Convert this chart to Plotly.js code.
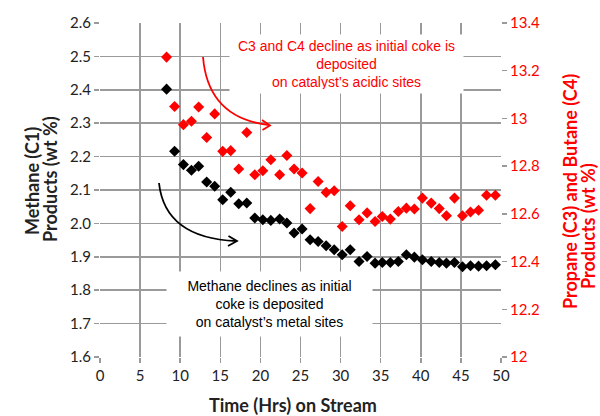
<!DOCTYPE html>
<html>
<head>
<meta charset="utf-8">
<script src="https://cdn.plot.ly/plotly-3.0.1.min.js"></script>
<style>html,body{margin:0;padding:0;background:#fff;}#chart{width:600px;height:416px;}</style>
</head>
<body>
<div id="chart"></div>
<script>
// ---- data ----
const timeHrs = [8.3,9.3,10.4,11.4,12.3,13.3,14.3,15.3,16.3,17.3,18.3,19.3,20.3,21.3,22.4,23.3,24.2,25.2,26.2,27.2,28.2,29.2,30.2,31.2,32.3,33.3,34.3,35.2,36.2,37.2,38.2,39.2,40.2,41.3,42.3,43.2,44.2,45.2,46.2,47.2,48.2,49.3,50.3];
const methaneC1 = [2.402,2.216,2.176,2.159,2.171,2.124,2.111,2.071,2.093,2.059,2.061,2.016,2.011,2.009,2.013,2.001,1.971,1.983,1.951,1.946,1.933,1.921,1.906,1.921,1.886,1.901,1.881,1.883,1.883,1.886,1.906,1.899,1.891,1.886,1.883,1.881,1.883,1.870,1.873,1.872,1.873,1.876,1.883];
const propaneButaneC3C4 = [13.257,13.050,12.974,12.988,13.048,12.920,13.019,12.862,12.865,12.788,12.941,12.764,12.781,12.827,12.764,12.845,12.788,12.771,12.622,12.736,12.690,12.697,12.547,12.634,12.575,12.604,12.568,12.589,12.578,12.610,12.624,12.620,12.666,12.645,12.622,12.592,12.666,12.592,12.608,12.615,12.678,12.678,12.678];
const xTicks = [0,5,10,15,20,25,30,35,40,45,50];
const yLeftTicks = [1.6,1.7,1.8,1.9,2.0,2.1,2.2,2.3,2.4,2.5,2.6];
const yLeftLabels = ['1.6','1.7','1.8','1.9','2.0','2.1','2.2','2.3','2.4','2.5','2.6'];
const yRightTicks = [12,12.2,12.4,12.6,12.8,13,13.2,13.4];
const yRightLabels = ['12','12.2','12.4','12.6','12.8','13','13.2','13.4'];
const xTitle = 'Time (Hrs) on Stream';
const yLeftTitle = ['Methane (C1)', 'Products (wt %)'];
const yRightTitle = ['Propane (C3) and Butane (C4)', 'Products (wt %)'];

// ---- layout helpers (plot area in pixels) ----
const M = {l:100, r:99, t:23, b:59};
const PW = 600 - M.l - M.r, PH = 416 - M.t - M.b;
const fx = px => (px - M.l) / PW;
const fy = py => (416 - M.b - py) / PH;
function P(px, py){ return fx(px).toFixed(4) + ',' + fy(py).toFixed(4); }

const GRID = '#9a9a9a';
const RED = '#ff0000';
const TFONT = 'Lato, sans-serif';
const TSIZE = 18;

const traces = [
  {x: timeHrs, y: methaneC1, type:'scatter', mode:'markers', name:'Methane (C1)',
   marker:{symbol:'diamond', size:8.5, color:'#000'}, cliponaxis:false, yaxis:'y'},
  {x: timeHrs, y: propaneButaneC3C4, type:'scatter', mode:'markers', name:'C3 + C4',
   marker:{symbol:'diamond', size:8.5, color:RED}, cliponaxis:false, yaxis:'y2'}
];

function titleAnn(text, px, py, color, angle){
  return {xref:'paper', yref:'paper', x:fx(px), y:fy(py), xanchor:'center', yanchor:'middle',
    text:'<b>' + text + '</b>', textangle:angle, showarrow:false,
    font:{family:TFONT, size:TSIZE, color:color}};
}

const layout = {
  width:600, height:416,
  margin:M,
  paper_bgcolor:'#fff', plot_bgcolor:'#fff',
  showlegend:false,
  font:{family:'Lato, sans-serif', color:'#222'},
  xaxis:{range:[0,50], tickmode:'array', tickvals:xTicks, ticktext:xTicks.map(String),
    showgrid:true, gridcolor:GRID, gridwidth:1.5, zeroline:false, showline:false,
    ticks:'outside', ticklen:5, tickwidth:1.5, tickcolor:GRID,
    tickfont:{size:15, color:'#222'}},
  yaxis:{range:[1.6,2.6], tickmode:'array', tickvals:yLeftTicks, ticktext:yLeftLabels,
    showgrid:true, gridcolor:GRID, gridwidth:1.5, zeroline:false, showline:false,
    ticks:'outside', ticklen:5, tickwidth:1.5, tickcolor:GRID,
    tickfont:{size:15, color:'#222'}},
  yaxis2:{range:[12,13.4], overlaying:'y', side:'right', tickmode:'array', tickvals:yRightTicks, ticktext:yRightLabels,
    showgrid:false, zeroline:false, showline:false,
    ticks:'outside', ticklen:5, tickwidth:1.5, tickcolor:GRID,
    tickfont:{size:15, color:RED}},
  shapes:[
    {type:'path', xref:'paper', yref:'paper', layer:'above',
     path:'M' + P(203,57) + ' Q' + P(208,118) + ' ' + P(269,125),
     line:{color:RED, width:1.8}},
    {type:'path', xref:'paper', yref:'paper', layer:'above',
     path:'M' + P(262,120) + ' L' + P(270,125.5) + ' L' + P(262.5,130),
     line:{color:RED, width:1.8}},
    {type:'path', xref:'paper', yref:'paper', layer:'above',
     path:'M' + P(159,183) + ' Q' + P(165,238) + ' ' + P(236,241),
     line:{color:'#000', width:1.8}},
    {type:'path', xref:'paper', yref:'paper', layer:'above',
     path:'M' + P(228.5,236) + ' L' + P(237,241) + ' L' + P(228,246),
     line:{color:'#000', width:1.8}}
  ],
  annotations:[
    {xref:'paper', yref:'paper', x:fx(346.5), y:fy(64), xanchor:'center', yanchor:'middle',
     text:'C3 and C4 decline as initial coke is<br>deposited<br>on catalyst\u2019s acidic sites',
     showarrow:false, bgcolor:'#fff', borderpad:4, width:225, height:50, align:'center',
     font:{family:'Liberation Sans, Arial, sans-serif', size:14, color:RED}},
    {xref:'paper', yref:'paper', x:fx(269.5), y:fy(304), xanchor:'center', yanchor:'middle',
     text:'Methane declines as initial<br>coke is deposited<br>on catalyst\u2019s metal sites',
     showarrow:false, bgcolor:'#fff', borderpad:4, width:197, height:56, align:'center',
     font:{family:'Liberation Sans, Arial, sans-serif', size:14, color:'#000'}},
    titleAnn(xTitle, 293, 405, '#222', 0),
    titleAnn(yLeftTitle[0], 32, 181, '#222', -90),
    titleAnn(yLeftTitle[1], 50, 179, '#222', -90),
    titleAnn(yRightTitle[0], 570, 192, RED, -90),
    titleAnn(yRightTitle[1], 588, 226, RED, -90)
  ]
};

Plotly.newPlot('chart', traces, layout, {displayModeBar:false, staticPlot:true});
</script>
</body>
</html>
